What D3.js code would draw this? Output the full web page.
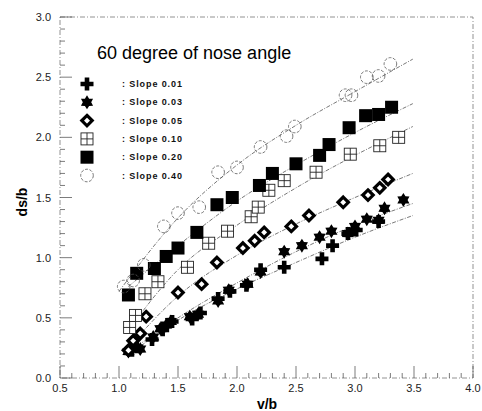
<!DOCTYPE html>
<html>
<head>
<meta charset="utf-8">
<style>
    body { margin: 0; background: #fff; }
    svg { display: block; font-family: Arial, "Liberation Sans", sans-serif; }
</style>
</head>
<body>
<svg width="482" height="411"></svg>
<script src="https://d3js.org/d3.v7.min.js"></script>
<script>
// measured points (v/b, ds/b)
let slope001 = [[1.11,0.23],[1.15,0.26],[1.28,0.32],[1.37,0.40],[1.45,0.47],[1.62,0.49],[1.69,0.54],[1.84,0.66],[1.94,0.72],[2.08,0.77],[2.20,0.90],[2.40,0.92],[2.72,0.99],[2.81,1.10],[2.94,1.20],[3.01,1.23],[3.20,1.30]]
let slope003 = [[1.08,0.22],[1.18,0.24],[1.29,0.34],[1.35,0.41],[1.40,0.44],[1.44,0.47],[1.60,0.51],[1.67,0.53],[1.84,0.64],[1.93,0.73],[2.09,0.78],[2.20,0.88],[2.40,1.05],[2.55,1.10],[2.70,1.17],[2.80,1.22],[2.94,1.20],[3.00,1.26],[3.10,1.32],[3.20,1.31],[3.25,1.41],[3.41,1.48]]
let slope005 = [[1.08,0.23],[1.12,0.31],[1.18,0.37],[1.23,0.51],[1.50,0.71],[1.70,0.78],[1.83,0.96],[2.05,1.08],[2.15,1.14],[2.23,1.21],[2.46,1.26],[2.61,1.35],[2.90,1.46],[3.11,1.52],[3.21,1.58],[3.28,1.65]]
let slope010 = [[1.09,0.42],[1.14,0.52],[1.22,0.70],[1.33,0.80],[1.58,0.92],[1.76,1.12],[1.92,1.22],[2.12,1.34],[2.18,1.42],[2.27,1.56],[2.40,1.64],[2.67,1.71],[2.96,1.86],[3.21,1.93],[3.37,2.00]]
let slope020 = [[1.08,0.69],[1.15,0.87],[1.30,0.91],[1.40,1.01],[1.50,1.08],[1.66,1.21],[1.83,1.44],[1.96,1.50],[2.19,1.60],[2.30,1.70],[2.50,1.78],[2.70,1.85],[2.78,1.94],[2.95,2.08],[3.09,2.18],[3.20,2.19],[3.31,2.25]]
let slope040 = [[1.04,0.76],[1.12,0.81],[1.21,0.94],[1.38,1.26],[1.50,1.37],[1.68,1.42],[1.84,1.71],[2.00,1.75],[2.20,1.92],[2.42,2.01],[2.49,2.09],[2.92,2.35],[2.97,2.35],[3.10,2.50],[3.20,2.51],[3.30,2.61]]

// fitted curves as drawn
let fit001 = [[1.08,0.19],[1.5,0.48],[2.0,0.74],[2.5,0.96],[3.0,1.17],[3.49,1.35]]
let fit003 = [[1.05,0.19],[1.5,0.50],[2.0,0.79],[2.5,1.05],[3.0,1.27],[3.49,1.45]]
let fit005 = [[1.05,0.22],[1.5,0.68],[2.0,1.02],[2.5,1.28],[3.0,1.50],[3.49,1.70]]
let fit010 = [[1.08,0.40],[1.5,0.90],[2.0,1.27],[2.5,1.58],[3.0,1.85],[3.49,2.09]]
let fit020 = [[1.08,0.76],[1.5,1.10],[2.0,1.47],[2.5,1.77],[3.0,2.04],[3.49,2.28]]
let fit040 = [[1.0,0.72],[1.5,1.33],[2.0,1.77],[2.5,2.10],[3.0,2.38],[3.49,2.65]]

let legendLabels = [": Slope 0.01", ": Slope 0.03", ": Slope 0.05", ": Slope 0.10", ": Slope 0.20", ": Slope 0.40"]
let markerTypes = ["plus", "star", "diamond", "boxplus", "square", "circle"]
let xTicks = [0.5, 1.0, 1.5, 2.0, 2.5, 3.0, 3.5, 4.0]
let yTicks = [0.0, 0.5, 1.0, 1.5, 2.0, 2.5, 3.0]

let svg = d3.select("svg")

let x = d3.scaleLinear().domain([0.5, 4]).range([60, 473])
let y = d3.scaleLinear().domain([0, 3]).range([378, 17])

// frame
svg.append("rect")
    .attr("x", 60).attr("y", 17)
    .attr("width", 413).attr("height", 361)
    .attr("fill", "none")
    .attr("stroke", "#777")
    .attr("stroke-width", 0.8)
    .attr("stroke-dasharray", "5,2,1,2")

// minor + major ticks
let minorX = d3.range(5, 41).map(d => d / 10)
let minorY = d3.range(0, 31).map(d => d / 10)

svg.append("g").selectAll("line")
    .data(minorX)
    .join("line")
    .attr("x1", d => x(d)).attr("x2", d => x(d))
    .attr("y1", 378)
    .attr("y2", d => Math.abs(d * 2 - Math.round(d * 2)) < 0.01 ? 366 : 373)
    .attr("stroke", "#444").attr("stroke-width", 0.7)

svg.append("g").selectAll("line")
    .data(minorY)
    .join("line")
    .attr("y1", d => y(d)).attr("y2", d => y(d))
    .attr("x1", 60)
    .attr("x2", d => Math.abs(d * 2 - Math.round(d * 2)) < 0.01 ? 72 : 65)
    .attr("stroke", "#444").attr("stroke-width", 0.7)

// tick labels
svg.append("g").selectAll("text")
    .data(xTicks)
    .join("text")
    .attr("x", d => x(d))
    .attr("y", 392)
    .attr("text-anchor", "middle")
    .attr("font-size", 11)
    .attr("fill", "#222")
    .text(d => d.toFixed(1))

svg.append("g").selectAll("text")
    .data(yTicks)
    .join("text")
    .attr("x", 51)
    .attr("y", d => y(d) + 4)
    .attr("text-anchor", "end")
    .attr("font-size", 11)
    .attr("fill", "#222")
    .text(d => d.toFixed(1))

svg.append("text")
    .attr("x", 267).attr("y", 409)
    .attr("text-anchor", "middle")
    .attr("font-size", 14).attr("font-weight", "bold")
    .text("v/b")

svg.append("text")
    .attr("transform", "translate(27,202) rotate(-90)")
    .attr("text-anchor", "middle")
    .attr("font-size", 14).attr("font-weight", "bold")
    .text("ds/b")

svg.append("text")
    .attr("x", 97).attr("y", 59)
    .attr("font-size", 18)
    .text("60 degree of nose angle")

// fit curves
let line = d3.line()
    .x(d => x(d[0]))
    .y(d => y(d[1]))
    .curve(d3.curveMonotoneX)

let fits = [fit001, fit003, fit005, fit010, fit020, fit040]
svg.append("g").selectAll("path")
    .data(fits)
    .join("path")
    .attr("d", line)
    .attr("fill", "none")
    .attr("stroke", "#555")
    .attr("stroke-width", 0.8)
    .attr("stroke-dasharray", "4,1.5,1,1.5")

// markers
function star(r1, r2) {
    let pts = []
    for (let i = 0; i < 12; i++) {
        let a = Math.PI / 6 * i - Math.PI / 2
        let r = i % 2 === 0 ? r1 : r2
        pts.push([r * Math.cos(a), r * Math.sin(a)])
    }
    return "M" + pts.map(p => p.join(",")).join("L") + "Z"
}

function drawMarker(g, type) {
    if (type === "plus") {
        g.append("path")
            .attr("d", "M-2.3,-6.5H2.3V-2.3H6.5V2.3H2.3V6.5H-2.3V2.3H-6.5V-2.3H-2.3Z")
            .attr("fill", "#000")
    } else if (type === "star") {
        g.append("path").attr("d", star(7, 4.2)).attr("fill", "#000")
    } else if (type === "diamond") {
        g.append("path")
            .attr("d", "M0,-5.2L5.2,0L0,5.2L-5.2,0Z")
            .attr("fill", "#fff").attr("stroke", "#000").attr("stroke-width", 3.2)
    } else if (type === "boxplus") {
        g.append("rect")
            .attr("x", -6).attr("y", -6).attr("width", 12).attr("height", 12)
            .attr("fill", "#fff").attr("stroke", "#222").attr("stroke-width", 0.9)
        g.append("path")
            .attr("d", "M0,-6V6M-6,0H6")
            .attr("stroke", "#222").attr("stroke-width", 0.9)
    } else if (type === "square") {
        g.append("rect")
            .attr("x", -6.5).attr("y", -6.5).attr("width", 13).attr("height", 13)
            .attr("fill", "#000")
    } else if (type === "circle") {
        g.append("circle")
            .attr("r", 6.3)
            .attr("fill", "none").attr("stroke", "#555").attr("stroke-width", 0.8)
            .attr("stroke-dasharray", "3,1.5")
    }
}

let series = [slope001, slope003, slope005, slope010, slope020, slope040]
series.forEach((s, i) => {
    svg.append("g").selectAll("g")
        .data(s)
        .join("g")
        .attr("transform", d => "translate(" + x(d[0]) + "," + y(d[1]) + ")")
        .each(function () { drawMarker(d3.select(this), markerTypes[i]) })
})

// legend
let legend = svg.append("g").selectAll("g")
    .data(legendLabels)
    .join("g")
    .attr("transform", (d, i) => "translate(87," + (84 + i * 18.3) + ")")

legend.each(function (d, i) { drawMarker(d3.select(this), markerTypes[i]) })

legend.append("text")
    .attr("x", 35)
    .attr("y", 3)
    .attr("font-size", 9)
    .attr("font-weight", "bold")
    .attr("letter-spacing", 0.9)
    .attr("fill", "#111")
    .text(d => d)
</script>
</body>
</html>
